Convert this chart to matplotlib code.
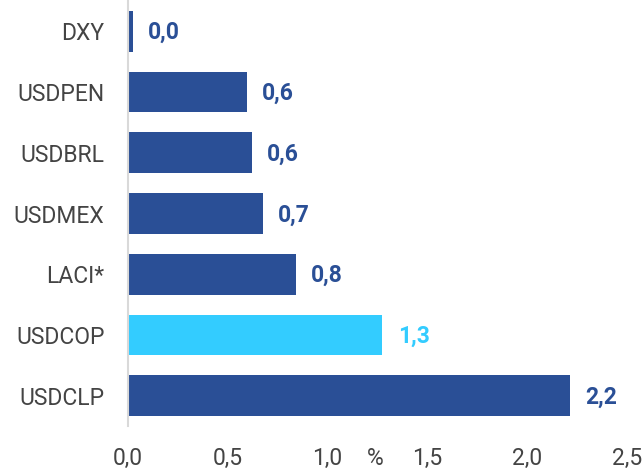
import matplotlib
matplotlib.use("Agg")
import matplotlib.pyplot as plt

plt.rcParams['font.family'] = ['Roboto', 'DejaVu Sans']

# Currency moves, in percent
categories = ["DXY", "USDPEN", "USDBRL", "USDMEX", "LACI*", "USDCOP", "USDCLP"]
values = [0.025, 0.595, 0.62, 0.675, 0.84, 1.275, 2.215]
highlight = "USDCOP"
x_ticks = [0.0, 0.5, 1.0, 1.5, 2.0, 2.5]

dark_blue = "#2a4f96"
light_blue = "#33ccff"
text_gray = "#444444"

fig = plt.figure(figsize=(6.43, 4.69), dpi=100)
ax = fig.add_axes([128 / 643, 1 - 426 / 469, (627 - 128) / 643, 425 / 469])

colors = [light_blue if c == highlight else dark_blue for c in categories]
ypos = list(range(len(categories)))
ax.barh(ypos, values, height=0.67, color=colors, zorder=2)

for y, v, c in zip(ypos, values, colors):
    ax.annotate(f"{v:.1f}".replace(".", ","), xy=(v, y), xytext=(11, -1),
                textcoords="offset points", ha="left", va="center",
                fontsize=16.5, fontweight="bold", color=c)

ax.set_xlim(0, 2.5)
ax.set_ylim(len(categories) - 0.5, -0.5)
ax.set_yticks(ypos)
ax.set_yticklabels(categories)
ax.set_xticks(x_ticks)
ax.set_xticklabels([f"{t:.1f}".replace(".", ",") for t in x_ticks])
ax.tick_params(axis="both", length=0, labelsize=16.5, colors=text_gray)
ax.tick_params(axis="y", pad=17)
ax.tick_params(axis="x", pad=15)

for side in ["top", "right", "bottom"]:
    ax.spines[side].set_visible(False)
ax.spines["left"].set_color("#d9d9d9")
ax.spines["left"].set_linewidth(1.5)

ax.annotate("%", xy=(1.24, 0), xycoords=("data", "axes fraction"),
            xytext=(0, -15), textcoords="offset points",
            ha="center", va="top", fontsize=16.5, color=text_gray)

fig.savefig("out.png", dpi=100)
